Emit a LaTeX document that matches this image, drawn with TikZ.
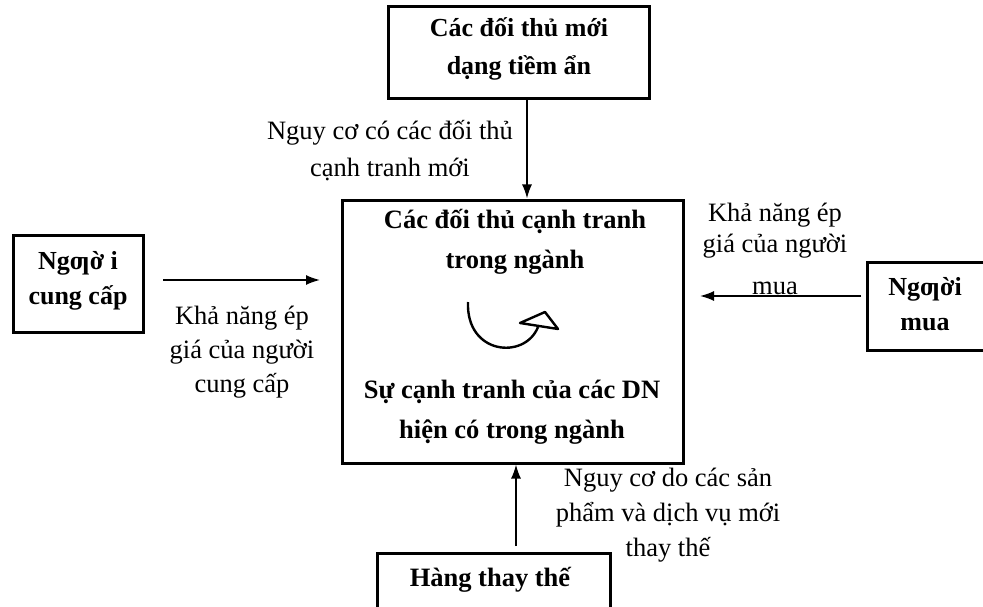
\documentclass[tikz,border=0pt]{standalone}
\usepackage{fontspec}
\setmainfont{Liberation Serif}
\usetikzlibrary{arrows.meta}
\begin{document}
\begin{tikzpicture}[x=1pt,y=-1pt,
  box/.style={draw, line width=3pt, inner sep=0pt},
  head/.style={align=center, font=\bfseries\fontsize{26}{38}\selectfont},
  note/.style={align=center, font=\fontsize{26.5}{34}\selectfont},
  conn/.style={line width=1.7pt, -{Latex[length=14pt,width=10pt]}},
  swirl/.style={line width=2.4pt, line join=round}]
\clip (0,0) rectangle (983,607);
\fill[white] (0,0) rectangle (983,607);

% force boxes
\node[box, minimum width=261pt, minimum height=92pt] (entrants) at (518.5,53) {};
\node[box, minimum width=341pt, minimum height=263pt] (rivalry) at (512.5,331.5) {};
\node[box, minimum width=130pt, minimum height=97pt] (suppliers) at (78,283.5) {};
\node[box, minimum width=140pt, minimum height=88pt] (buyers) at (937,306) {};
\node[box, minimum width=233pt, minimum height=90pt] (substitutes) at (493.5,598) {};

% box captions
\node[head] (entrantsT) at (519,49) {Các đối thủ mới\\dạng tiềm ẩn};
\node[head, font=\bfseries\fontsize{26.5}{40}\selectfont] (rivalryT) at (515,242) {Các đối thủ cạnh tranh\\trong ngành};
\node[head, font=\bfseries\fontsize{26.5}{40}\selectfont] (rivalryB) at (512,412) {Sự cạnh tranh của các DN\\hiện có trong ngành};
\node[head, font=\bfseries\fontsize{26}{35}\selectfont] (suppliersT) at (78,280.5) {Ngƣờ i\\cung cấp};
\node[head, font=\bfseries\fontsize{26}{35}\selectfont] (buyersT) at (925,304.5) {Ngƣời\\mua};
\node[head, font=\bfseries\fontsize{26.5}{38}\selectfont] (substitutesT) at (490,580) {Hàng thay thế};

% force labels
\node[note, font=\fontsize{26.5}{37}\selectfont] (newL) at (390,151) {Nguy cơ có các đối thủ\\cạnh tranh mới};
\node[note] (supL) at (242,352) {Khả năng ép\\giá của người\\cung cấp};
\node[note, font=\fontsize{26.5}{31}\selectfont] (buyL) at (775,230.5) {Khả năng ép\\giá của người};
\node[note] (buyL2) at (775,288) {mua};
\node[note, font=\fontsize{26.5}{35}\selectfont] (subL) at (668,515) {Nguy cơ do các sản\\phẩm và dịch vụ mới\\thay thế};

% connectors
\coordinate (xTop) at (527,0);
\coordinate (xBot) at (516,0);
\coordinate (supA) at (163,280);
\coordinate (supB) at (320,280);
\coordinate (buyA) at (861,296);
\coordinate (buyB) at (700,296);
\coordinate (subA) at (516,546);
\draw[conn] (entrants.south -| xTop) -- (rivalry.north -| xTop);
\draw[conn] (supA) -- (supB);
\draw[conn] (buyA) -- (buyB);
\draw[conn] (subA) -- (rivalry.south -| xBot);

% rotating arrow inside the rivalry box
\coordinate (swA) at (468,302);
\coordinate (swB) at (538,327);
\draw[swirl] (swA) .. controls (466,355) and (525,360) .. (swB);
\draw[swirl, fill=white] (520,323) -- (545,312) -- (558,329) -- cycle;
\end{tikzpicture}
\end{document}
